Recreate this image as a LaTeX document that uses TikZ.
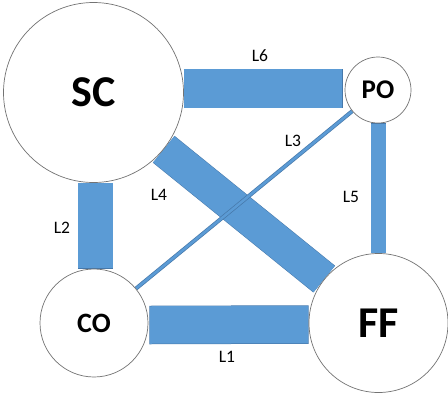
\documentclass[tikz,border=0pt]{standalone}
\usepackage{fontspec}
\setmainfont{Carlito}
\begin{document}
\begin{tikzpicture}[x=1pt,y=-1pt,
  hub/.style={circle,draw=black!55,line width=0.7pt,fill=white,inner sep=0pt,font=\bfseries},
  lbl/.style={font=\fontsize{17.5}{20}\selectfont,inner sep=0pt}
]
\definecolor{lnk}{RGB}{91,155,213}
\definecolor{lnkdark}{RGB}{70,120,170}
\useasboundingbox (0,0) rectangle (448,392);
\path (93.5,92.5) coordinate (psc) (378,90) coordinate (ppo)
      (94,323) coordinate (pco) (378.5,323) coordinate (pff);
\node[hub,minimum size=180pt,draw=none,fill=none] (sc) at (psc) {};
\node[hub,minimum size=66pt,draw=none,fill=none] (po) at (ppo) {};
\node[hub,minimum size=108pt,draw=none,fill=none] (co) at (pco) {};
\node[hub,minimum size=139pt,draw=none,fill=none] (ff) at (pff) {};
% thick links
\draw[lnkdark,line width=39.5pt] ([yshift=4pt]sc.east) -- ([yshift=1.5pt,xshift=-2pt]po.west);
\draw[lnk,line width=38.5pt] ([yshift=4pt,xshift=0.5pt]sc.east) -- ([yshift=1.5pt,xshift=-2.5pt]po.west);
\draw[lnkdark,line width=15.5pt] ([xshift=0.5pt]po.south) -- (ff.north);
\draw[lnk,line width=14.5pt] ([xshift=0.5pt,yshift=-0.5pt]po.south) -- (ff.north);
\draw[lnkdark,line width=35.5pt] ([xshift=2pt]sc.south) -- ([xshift=1.5pt]co.north);
\draw[lnk,line width=34.5pt] ([xshift=2pt,yshift=-0.5pt]sc.south) -- ([xshift=1.5pt,yshift=0.5pt]co.north);
\draw[lnkdark,line width=38.5pt] ([yshift=-2pt,xshift=1pt]co.east) -- ([yshift=-1.5pt]ff.west);
\draw[lnk,line width=37.5pt] ([yshift=-2pt,xshift=1.5pt]co.east) -- ([yshift=-1.5pt,xshift=-0.5pt]ff.west);
\draw[lnkdark,line width=34.5pt] (sc) -- (ff);
\draw[lnk,line width=33.5pt] (sc) -- (ff);
\draw[lnkdark,line width=4pt] (po) -- (co);
\draw[lnk,line width=2.6pt] (po) -- (co);
% circles on top
\node[hub,minimum size=180pt,font=\bfseries\fontsize{44}{50}\selectfont] at (psc) {SC};
\node[hub,minimum size=66pt,font=\bfseries\fontsize{27}{30}\selectfont] at (ppo) {PO};
\node[hub,minimum size=108pt,font=\bfseries\fontsize{28}{32}\selectfont] at (pco) {CO};
\node[hub,minimum size=139pt,font=\bfseries\fontsize{44}{50}\selectfont] at (pff) {FF};
% labels
\node[lbl] (l6) at (260,56) {L6};
\node[lbl] (l3) at (293,141) {L3};
\node[lbl] (l5) at (351,197) {L5};
\node[lbl] (l4) at (159,195) {L4};
\node[lbl] (l2) at (62,228) {L2};
\node[lbl] (l1) at (227,357) {L1};
\end{tikzpicture}
\end{document}
